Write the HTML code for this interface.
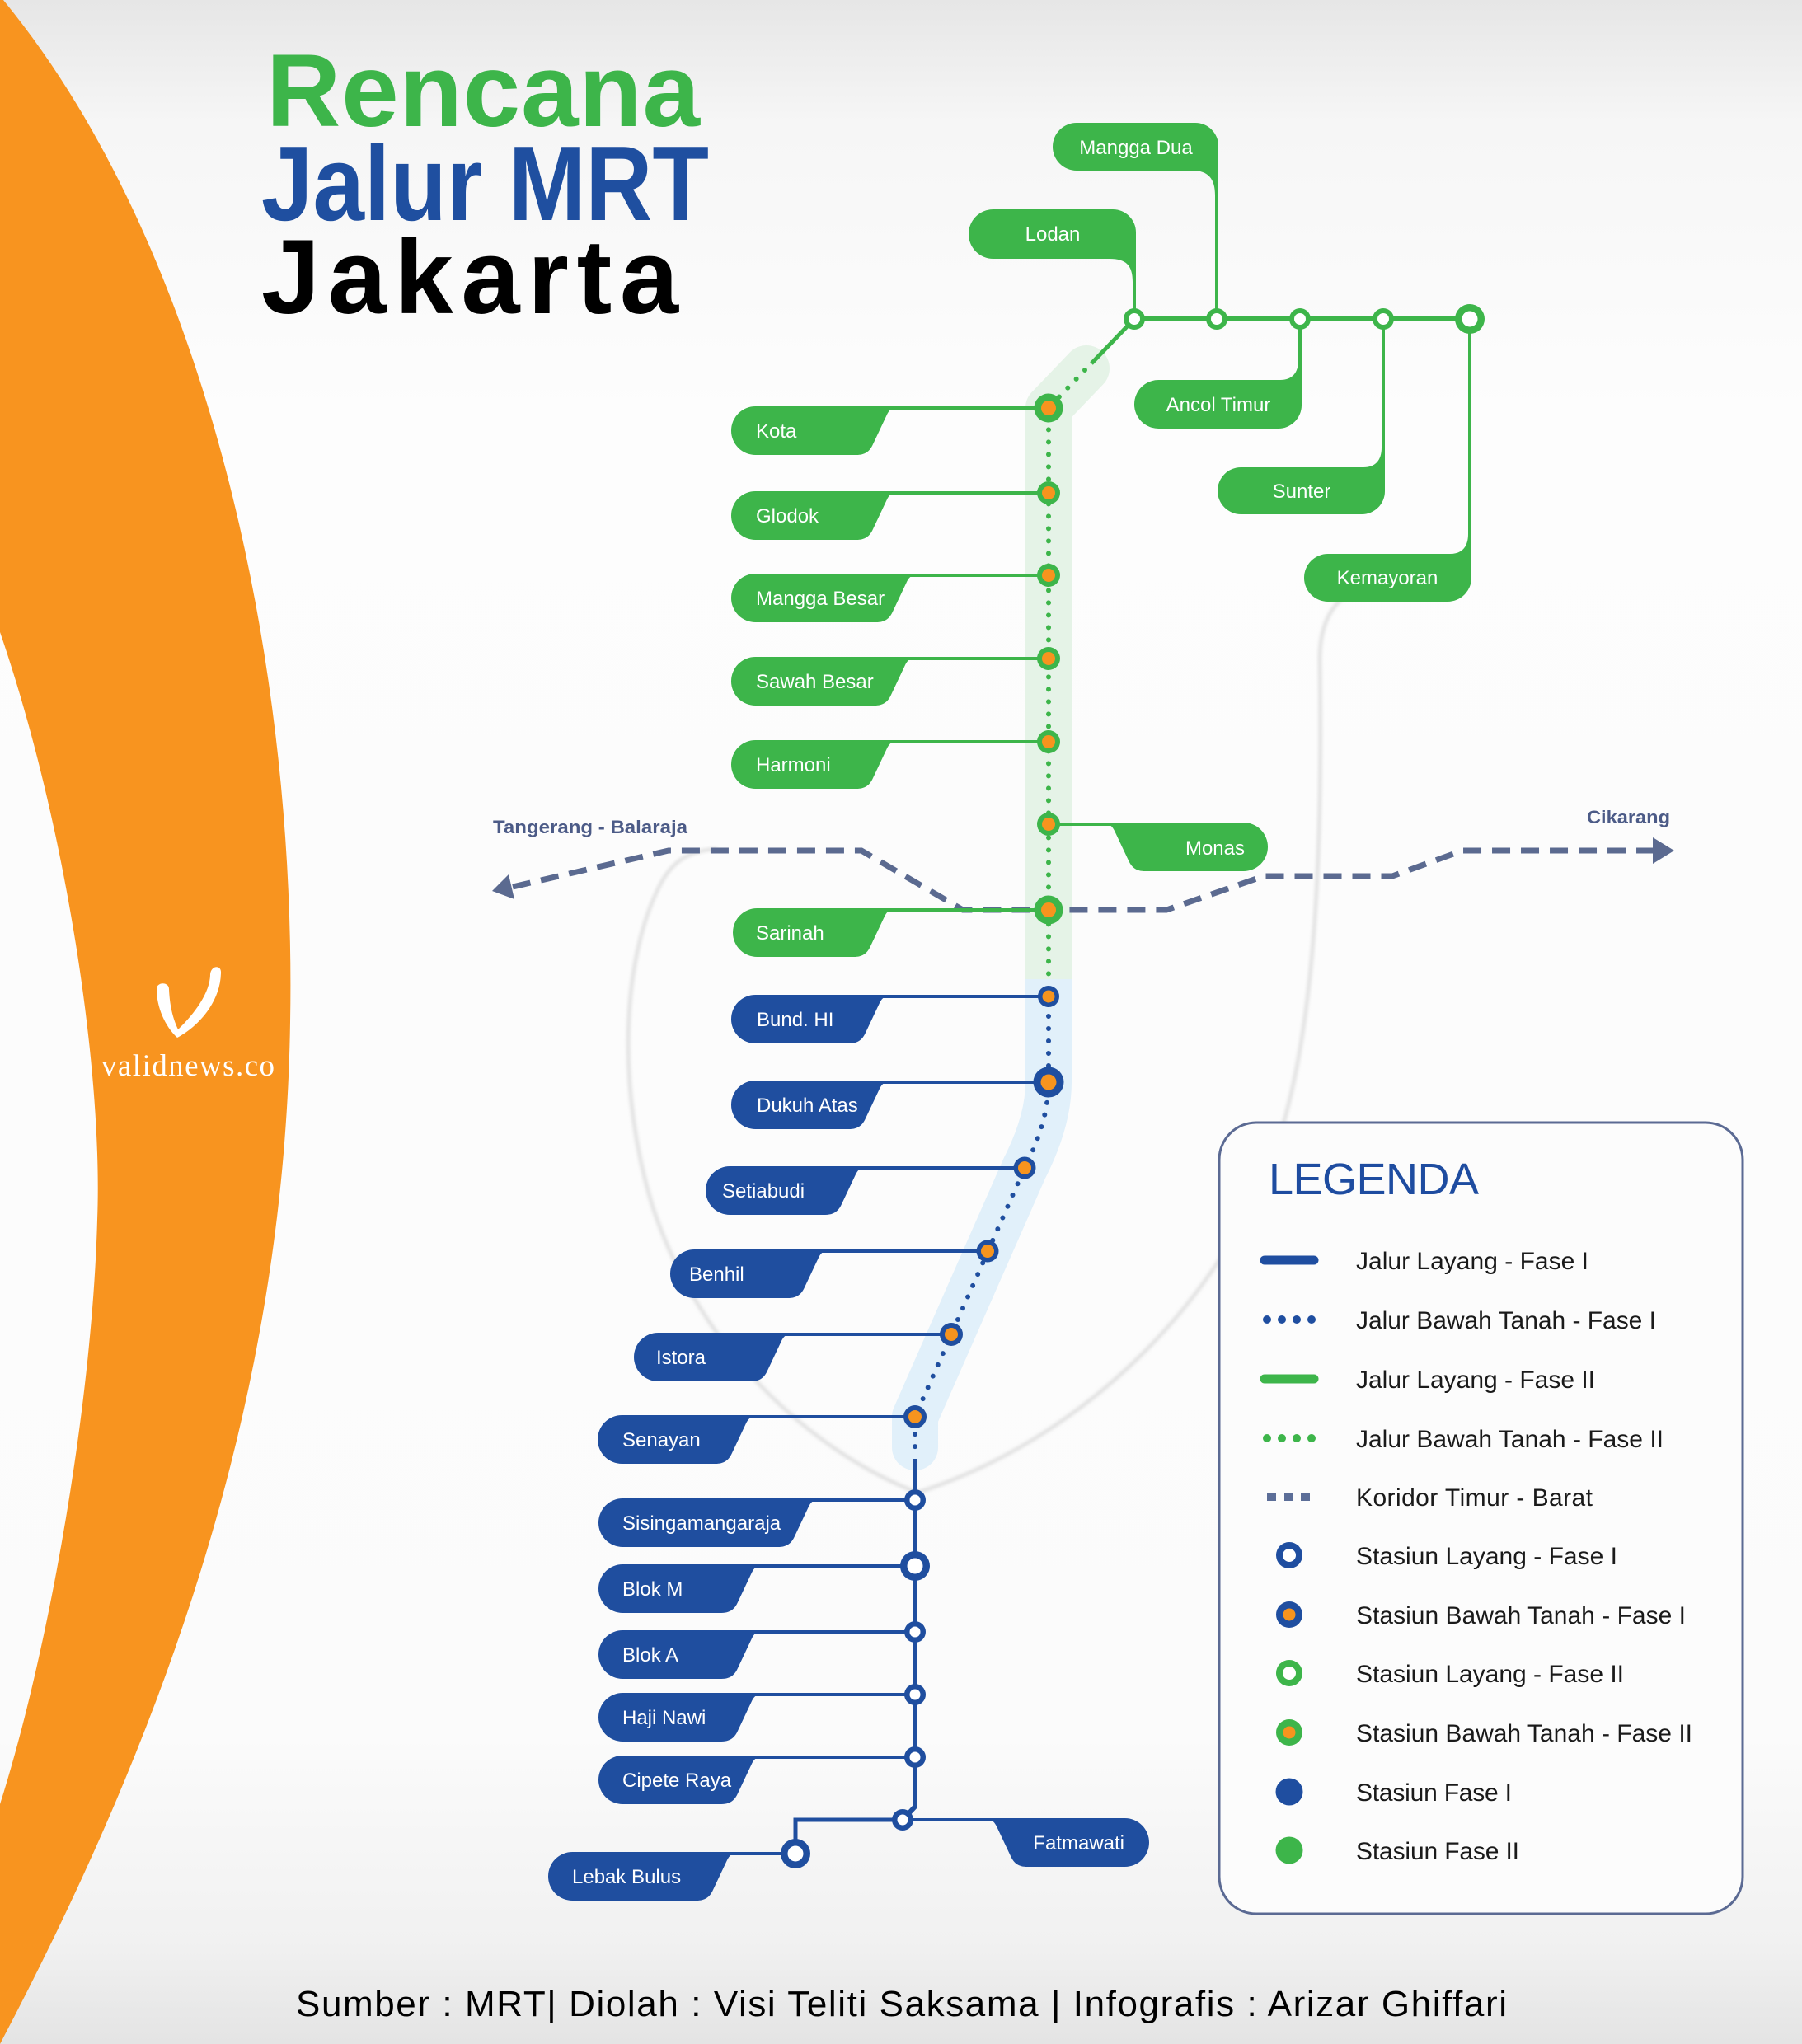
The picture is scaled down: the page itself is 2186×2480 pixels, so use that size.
<!DOCTYPE html>
<html><head><meta charset="utf-8"><style>
html,body{margin:0;padding:0;background:#fff;}
svg{display:block;}
text{font-family:"Liberation Sans",Arial,sans-serif;}
</style></head><body>
<svg width="2186" height="2480" viewBox="0 0 2186 2480" xmlns="http://www.w3.org/2000/svg">
<defs>
<linearGradient id="bg" x1="0" y1="0" x2="0" y2="1">
<stop offset="0" stop-color="#e6e6e6"/>
<stop offset="0.06" stop-color="#f6f6f6"/>
<stop offset="0.2" stop-color="#fdfdfd"/>
<stop offset="0.85" stop-color="#fbfbfb"/>
<stop offset="0.95" stop-color="#f1f1f1"/>
<stop offset="1" stop-color="#e4e4e4"/>
</linearGradient>
<filter id="blur" x="-10%" y="-10%" width="120%" height="120%"><feGaussianBlur stdDeviation="2"/></filter>
</defs>
<rect width="2186" height="2480" fill="url(#bg)"/>

<!-- orange crescent -->
<path fill="#f8941f" fill-rule="evenodd" d="M0,0 L4,0 C250,300 360,800 352,1240 C345,1700 200,2100 0,2480 Z M0,767 C80,1000 125,1300 118,1480 C112,1700 60,2000 0,2189 Z"/>

<!-- logo -->
<path fill="#fff" d="M190,1200 C190,1191 205,1191 205,1200 C206,1224 211,1238 216,1249 C236,1230 255,1204 255,1182 C256,1171 269,1170 268,1181 C267,1216 241,1245 215,1259 C200,1245 190,1222 190,1200 Z"/>
<text x="123" y="1305" font-family="Liberation Serif,serif" font-size="37" fill="#fff" textLength="210" lengthAdjust="spacing" style="font-family:'Liberation Serif',serif">validnews.co</text>

<!-- title -->
<text x="323" y="153" font-size="125" font-weight="bold" fill="#3db54a" textLength="526" lengthAdjust="spacing">Rencana</text>
<text x="317" y="267" font-size="129" font-weight="bold" fill="#1f4fa0" textLength="543" lengthAdjust="spacingAndGlyphs">Jalur MRT</text>
<text x="317" y="380" font-size="128" font-weight="bold" fill="#000" textLength="506" lengthAdjust="spacing">Jakarta</text>

<!-- leaf shadow -->
<g fill="none" stroke="#d3d3d3" stroke-width="3" filter="url(#blur)">
<path d="M1690,706 C1630,708 1601,740 1601,800 C1604,1000 1600,1250 1545,1400 C1480,1575 1320,1745 1110,1812"/>
<path d="M1110,1810 C985,1760 850,1640 792,1465 C750,1330 752,1170 800,1075 C815,1045 835,1032 870,1030"/>
</g>

<!-- bands -->
<path d="M1318,447 L1272,495 L1272,1190" fill="none" stroke="#e5f3e7" stroke-width="56" stroke-linejoin="round"/>
<circle cx="1318" cy="447" r="28" fill="#e5f3e7"/>
<path d="M1272,1188 L1272,1313 Q1272,1360 1243,1417 L1110,1719 L1110,1756" fill="none" stroke="#e1f0fa" stroke-width="56" stroke-linejoin="round"/>
<circle cx="1110" cy="1756" r="28" fill="#e1f0fa"/>

<!-- corridor dashed -->
<g fill="none" stroke="#5b6a90" stroke-width="7" stroke-dasharray="22 13">
<path d="M622,1076 L811,1032 L1045,1032 L1168,1104 L1415,1104 L1533,1063 L1689,1063 L1774,1032 L2008,1032"/>
</g>
<polygon points="597,1081 624,1091 617,1061" fill="#5b6a90"/>
<polygon points="2031,1032 2005,1016 2005,1048" fill="#5b6a90"/>
<text x="598" y="1011" font-size="22" font-weight="bold" fill="#4c5b87" textLength="236" lengthAdjust="spacingAndGlyphs">Tangerang - Balaraja</text>
<text x="1925" y="999" font-size="22" font-weight="bold" fill="#4c5b87" textLength="101" lengthAdjust="spacingAndGlyphs">Cikarang</text>

<!-- green lines -->
<g fill="none" stroke="#3db54a">
<path d="M1376,387 L1783,387" stroke-width="6"/>
<path d="M1376,387 L1324,441" stroke-width="5"/>
<path d="M1316,449 L1272,495 L1272,1196" stroke-width="6" stroke-dasharray="0 15" stroke-linecap="round"/>
<!-- station connector lines -->
<g stroke-width="4">
<path d="M1075,495 L1272,495"/>
<path d="M1075,598 L1272,598"/>
<path d="M1099,698 L1272,698"/>
<path d="M1097,799 L1272,799"/>
<path d="M1075,900 L1272,900"/>
<path d="M1272,1000 L1353,1000"/>
<path d="M1072,1104 L1272,1104"/>
</g>
</g>

<!-- blue lines -->
<g fill="none" stroke="#1f4e9f">
<path d="M1272,1203 L1272,1313 Q1272,1360 1243,1417 L1110,1719 L1110,1762" stroke-width="6" stroke-dasharray="0 15" stroke-linecap="round"/>
<path d="M1110,1770 L1110,2192 L1095,2208" stroke-width="6"/>
<path d="M1095,2208 L965,2208 L965,2249" stroke-width="5"/>
<path d="M1095,2208 L1210,2208" stroke-width="4"/>
<g stroke-width="4">
<path d="M1066,1209 L1272,1209"/>
<path d="M1066,1313 L1272,1313"/>
<path d="M1037,1417 L1243,1417"/>
<path d="M992,1518 L1198,1518"/>
<path d="M947,1619 L1154,1619"/>
<path d="M904,1719 L1110,1719"/>
<path d="M980,1820 L1110,1820"/>
<path d="M911,1900 L1110,1900"/>
<path d="M911,1980 L1110,1980"/>
<path d="M911,2056 L1110,2056"/>
<path d="M911,2132 L1110,2132"/>
<path d="M881,2249 L965,2249"/>
</g>
</g>

<!-- green labels -->
<g fill="#3db54a">
<path d="M1306,149 L1450,149 A28,28 0 0 1 1478,177 L1478,387 L1474,387 L1474,237 C1474,217 1466,207 1446,207 L1306,207 A29,29 0 0 1 1306,149 Z"/>
<path d="M1205,254 L1350,254 A28,28 0 0 1 1378,282 L1378,387 L1374,387 L1374,342 C1374,322 1366,314 1346,314 L1205,314 A30,30 0 0 1 1205,254 Z"/>
<path d="M1405.5,461 L1553,461 C1567,461 1575,453 1575,437 L1575,387 L1579,387 L1579,491.5 A28.5,28.5 0 0 1 1550.5,520 L1405.5,520 A29.5,29.5 0 0 1 1405.5,461 Z"/>
<path d="M1505.5,567 L1654,567 C1668,567 1676,559 1676,543 L1676,387 L1680,387 L1680,596 A28,28 0 0 1 1652,624 L1505.5,624 A28.5,28.5 0 0 1 1505.5,567 Z"/>
<path d="M1611,672 L1759,672 C1773,672 1781,664 1781,648 L1781,387 L1785,387 L1785,701 A29,29 0 0 1 1756,730 L1611,730 A29,29 0 0 1 1611,672 Z"/>
<path d="M916.5,493 L1093,493 C1083,493 1079,497 1076,503 L1059,539 C1055,548 1049,552 1039,552 L916.5,552 A29.5,29.5 0 0 1 916.5,493 Z"/>
<path d="M916.5,596 L1093,596 C1083,596 1079,600 1076,606 L1059,642 C1055,651 1049,655 1039,655 L916.5,655 A29.5,29.5 0 0 1 916.5,596 Z"/>
<path d="M916.5,696 L1117,696 C1107,696 1103,700 1100,706 L1083,742 C1079,751 1073,755 1063,755 L916.5,755 A29.5,29.5 0 0 1 916.5,696 Z"/>
<path d="M916.5,797 L1115,797 C1105,797 1101,801 1098,807 L1081,843 C1077,852 1071,856 1061,856 L916.5,856 A29.5,29.5 0 0 1 916.5,797 Z"/>
<path d="M916.5,898 L1093,898 C1083,898 1079,902 1076,908 L1059,944 C1055,953 1049,957 1039,957 L916.5,957 A29.5,29.5 0 0 1 916.5,898 Z"/>
<path d="M1508.5,998 L1335,998 C1345,998 1349,1002 1352,1008 L1369,1044 C1373,1053 1379,1057 1389,1057 L1508.5,1057 A29.5,29.5 0 0 0 1508.5,998 Z"/>
<path d="M918.5,1102 L1090,1102 C1080,1102 1076,1106 1073,1112 L1056,1148 C1052,1157 1046,1161 1036,1161 L918.5,1161 A29.5,29.5 0 0 1 918.5,1102 Z"/>
</g>

<!-- blue labels -->
<g fill="#1f4e9f">
<path d="M916.5,1207 L1084,1207 C1074,1207 1070,1211 1067,1217 L1050,1253 C1046,1262 1040,1266 1030,1266 L916.5,1266 A29.5,29.5 0 0 1 916.5,1207 Z"/>
<path d="M916.5,1311 L1084,1311 C1074,1311 1070,1315 1067,1321 L1050,1357 C1046,1366 1040,1370 1030,1370 L916.5,1370 A29.5,29.5 0 0 1 916.5,1311 Z"/>
<path d="M885.5,1415 L1055,1415 C1045,1415 1041,1419 1038,1425 L1021,1461 C1017,1470 1011,1474 1001,1474 L885.5,1474 A29.5,29.5 0 0 1 885.5,1415 Z"/>
<path d="M842.5,1516 L1010,1516 C1000,1516 996,1520 993,1526 L976,1562 C972,1571 966,1575 956,1575 L842.5,1575 A29.5,29.5 0 0 1 842.5,1516 Z"/>
<path d="M798.5,1617 L965,1617 C955,1617 951,1621 948,1627 L931,1663 C927,1672 921,1676 911,1676 L798.5,1676 A29.5,29.5 0 0 1 798.5,1617 Z"/>
<path d="M754.5,1717 L922,1717 C912,1717 908,1721 905,1727 L888,1763 C884,1772 878,1776 868,1776 L754.5,1776 A29.5,29.5 0 0 1 754.5,1717 Z"/>
<path d="M755.5,1818 L998,1818 C988,1818 984,1822 981,1828 L964,1864 C960,1873 954,1877 944,1877 L755.5,1877 A29.5,29.5 0 0 1 755.5,1818 Z"/>
<path d="M755.5,1898 L929,1898 C919,1898 915,1902 912,1908 L895,1944 C891,1953 885,1957 875,1957 L755.5,1957 A29.5,29.5 0 0 1 755.5,1898 Z"/>
<path d="M755.5,1978 L929,1978 C919,1978 915,1982 912,1988 L895,2024 C891,2033 885,2037 875,2037 L755.5,2037 A29.5,29.5 0 0 1 755.5,1978 Z"/>
<path d="M755.5,2054 L929,2054 C919,2054 915,2058 912,2064 L895,2100 C891,2109 885,2113 875,2113 L755.5,2113 A29.5,29.5 0 0 1 755.5,2054 Z"/>
<path d="M755.5,2130 L929,2130 C919,2130 915,2134 912,2140 L895,2176 C891,2185 885,2189 875,2189 L755.5,2189 A29.5,29.5 0 0 1 755.5,2130 Z"/>
<path d="M694.5,2247 L899,2247 C889,2247 885,2251 882,2257 L865,2293 C861,2302 855,2306 845,2306 L694.5,2306 A29.5,29.5 0 0 1 694.5,2247 Z"/>
<path d="M1364.5,2206 L1192,2206 C1202,2206 1206,2210 1209,2216 L1226,2252 C1230,2261 1236,2265 1246,2265 L1364.5,2265 A29.5,29.5 0 0 0 1364.5,2206 Z"/>
</g>

<!-- label text -->
<g fill="#fff" font-size="24">
<text x="1378" y="187" text-anchor="middle">Mangga Dua</text>
<text x="1277" y="292" text-anchor="middle">Lodan</text>
<text x="1478" y="499" text-anchor="middle">Ancol Timur</text>
<text x="1579" y="604" text-anchor="middle">Sunter</text>
<text x="1683" y="709" text-anchor="middle">Kemayoran</text>
<text x="917" y="531">Kota</text>
<text x="917" y="634">Glodok</text>
<text x="917" y="734">Mangga Besar</text>
<text x="917" y="835">Sawah Besar</text>
<text x="917" y="936">Harmoni</text>
<text x="1510" y="1037" text-anchor="end">Monas</text>
<text x="917" y="1140">Sarinah</text>
<text x="918" y="1245">Bund. HI</text>
<text x="918" y="1349">Dukuh Atas</text>
<text x="876" y="1453">Setiabudi</text>
<text x="836" y="1554">Benhil</text>
<text x="796" y="1655">Istora</text>
<text x="755" y="1755">Senayan</text>
<text x="755" y="1856">Sisingamangaraja</text>
<text x="755" y="1936">Blok M</text>
<text x="755" y="2016">Blok A</text>
<text x="755" y="2092">Haji Nawi</text>
<text x="755" y="2168">Cipete Raya</text>
<text x="694" y="2285">Lebak Bulus</text>
<text x="1364" y="2244" text-anchor="end">Fatmawati</text>
</g>

<!-- stations green elevated -->
<g fill="#3db54a">
<circle cx="1376" cy="387" r="13"/><circle cx="1476" cy="387" r="13"/><circle cx="1577" cy="387" r="13"/><circle cx="1678" cy="387" r="13"/><circle cx="1783" cy="387" r="18"/>
</g>
<g fill="#fff">
<circle cx="1376" cy="387" r="7"/><circle cx="1476" cy="387" r="7"/><circle cx="1577" cy="387" r="7"/><circle cx="1678" cy="387" r="7"/><circle cx="1783" cy="387" r="9.5"/>
</g>
<!-- green underground -->
<g fill="#3db54a">
<circle cx="1272" cy="495" r="17.5"/><circle cx="1272" cy="598" r="14"/><circle cx="1272" cy="698" r="14"/><circle cx="1272" cy="799" r="14"/><circle cx="1272" cy="900" r="14"/><circle cx="1272" cy="1000" r="14"/><circle cx="1272" cy="1104" r="17.5"/>
</g>
<g fill="#f7941e">
<circle cx="1272" cy="495" r="9"/><circle cx="1272" cy="598" r="8"/><circle cx="1272" cy="698" r="8"/><circle cx="1272" cy="799" r="8"/><circle cx="1272" cy="900" r="8"/><circle cx="1272" cy="1000" r="8"/><circle cx="1272" cy="1104" r="9"/>
</g>
<!-- blue underground -->
<g fill="#1f4e9f">
<circle cx="1272" cy="1209" r="13"/><circle cx="1272" cy="1313" r="18.5"/><circle cx="1243" cy="1417" r="13.5"/><circle cx="1198" cy="1518" r="13.5"/><circle cx="1154" cy="1619" r="14"/><circle cx="1110" cy="1719" r="14"/>
</g>
<g fill="#f7941e">
<circle cx="1272" cy="1209" r="7.5"/><circle cx="1272" cy="1313" r="9.5"/><circle cx="1243" cy="1417" r="8"/><circle cx="1198" cy="1518" r="8"/><circle cx="1154" cy="1619" r="8"/><circle cx="1110" cy="1719" r="8"/>
</g>
<!-- blue elevated -->
<g fill="#1f4e9f">
<circle cx="1110" cy="1820" r="13"/><circle cx="1110" cy="1900" r="18"/><circle cx="1110" cy="1980" r="13"/><circle cx="1110" cy="2056" r="13"/><circle cx="1110" cy="2132" r="13"/><circle cx="1095" cy="2208" r="13"/><circle cx="965" cy="2249" r="18"/>
</g>
<g fill="#fff">
<circle cx="1110" cy="1820" r="6.5"/><circle cx="1110" cy="1900" r="9.5"/><circle cx="1110" cy="1980" r="6.5"/><circle cx="1110" cy="2056" r="6.5"/><circle cx="1110" cy="2132" r="6.5"/><circle cx="1095" cy="2208" r="6.5"/><circle cx="965" cy="2249" r="9.5"/>
</g>

<!-- legend -->
<rect x="1479" y="1362" width="635" height="960" rx="45" ry="45" fill="#fcfcfc" stroke="#5b6a93" stroke-width="3"/>
<text x="1539" y="1449" font-size="54" fill="#1e4ca0" textLength="255" lengthAdjust="spacing">LEGENDA</text>
<line x1="1534" y1="1529" x2="1594" y2="1529" stroke="#1f4ea0" stroke-width="11" stroke-linecap="round"/>
<g fill="#1f4ea0"><circle cx="1537" cy="1601" r="5"/><circle cx="1555" cy="1601" r="5"/><circle cx="1573" cy="1601" r="5"/><circle cx="1591" cy="1601" r="5"/></g>
<line x1="1534" y1="1673" x2="1594" y2="1673" stroke="#3db54a" stroke-width="11" stroke-linecap="round"/>
<g fill="#3db54a"><circle cx="1537" cy="1745" r="5"/><circle cx="1555" cy="1745" r="5"/><circle cx="1573" cy="1745" r="5"/><circle cx="1591" cy="1745" r="5"/></g>
<g fill="#5c6e98"><rect x="1537" y="1811" width="11" height="10"/><rect x="1558" y="1811" width="11" height="10"/><rect x="1578" y="1811" width="11" height="10"/></g>
<circle cx="1564" cy="1887" r="16" fill="#1f4ea0"/><circle cx="1564" cy="1887" r="8" fill="#fff"/>
<circle cx="1564" cy="1959" r="16" fill="#1f4ea0"/><circle cx="1564" cy="1959" r="7.5" fill="#f7941e"/>
<circle cx="1564" cy="2030" r="16" fill="#3db54a"/><circle cx="1564" cy="2030" r="8" fill="#fff"/>
<circle cx="1564" cy="2102" r="16" fill="#3db54a"/><circle cx="1564" cy="2102" r="7.5" fill="#f7941e"/>
<circle cx="1564" cy="2174" r="16.5" fill="#1f4ea0"/>
<circle cx="1564" cy="2245" r="16.5" fill="#3db54a"/>
<g fill="#1a1a1a" font-size="30">
<text x="1645" y="1540" textLength="282" lengthAdjust="spacing">Jalur Layang - Fase I</text>
<text x="1645" y="1612" textLength="364" lengthAdjust="spacing">Jalur Bawah Tanah - Fase I</text>
<text x="1645" y="1684" textLength="290" lengthAdjust="spacing">Jalur Layang - Fase II</text>
<text x="1645" y="1756" textLength="373" lengthAdjust="spacing">Jalur Bawah Tanah - Fase II</text>
<text x="1645" y="1827" textLength="287" lengthAdjust="spacing">Koridor Timur - Barat</text>
<text x="1645" y="1898" textLength="317" lengthAdjust="spacing">Stasiun Layang - Fase I</text>
<text x="1645" y="1970" textLength="400" lengthAdjust="spacing">Stasiun Bawah Tanah - Fase I</text>
<text x="1645" y="2041" textLength="325" lengthAdjust="spacing">Stasiun Layang - Fase II</text>
<text x="1645" y="2113" textLength="408" lengthAdjust="spacing">Stasiun Bawah Tanah - Fase II</text>
<text x="1645" y="2185" textLength="189" lengthAdjust="spacing">Stasiun Fase I</text>
<text x="1645" y="2256" textLength="198" lengthAdjust="spacing">Stasiun Fase II</text>
</g>

<!-- footer -->
<text x="359" y="2446" font-size="44" fill="#000" textLength="1469" lengthAdjust="spacing">Sumber : MRT| Diolah : Visi Teliti Saksama | Infografis : Arizar Ghiffari</text>
</svg>
</body></html>
